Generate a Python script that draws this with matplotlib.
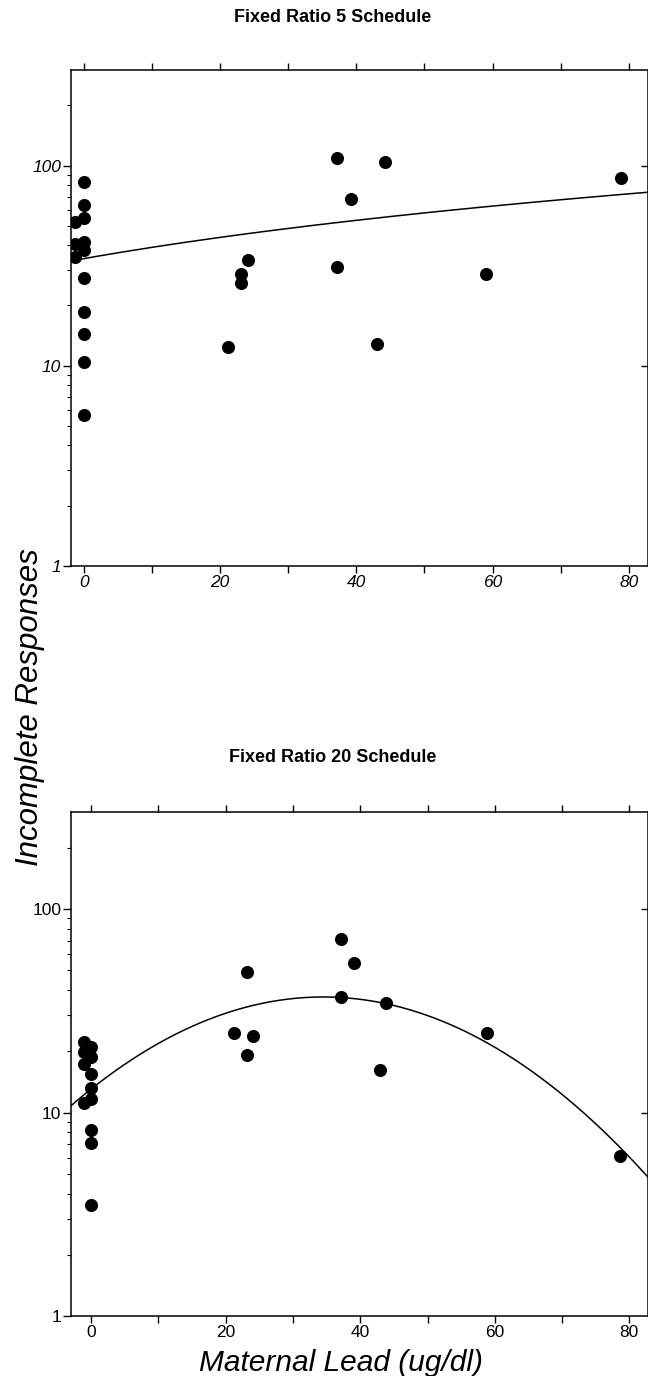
import numpy as np
import matplotlib
matplotlib.use("Agg")
import matplotlib.pyplot as plt
from matplotlib.ticker import FixedLocator, NullFormatter, FixedFormatter

plt.rcParams['font.family'] = ['Liberation Sans', 'DejaVu Sans']

# ---------------- data ----------------
titles = ["Fixed Ratio 5 Schedule", "Fixed Ratio 20 Schedule"]
x_label = "Maternal Lead (ug/dl)"
y_label = "Incomplete Responses"

lead_fr5 = [-1.3, -1.3, -1.3, 0, 0, 0, 0, 0, 0, 0, 0, 0, 0,
            21.1, 23.1, 23.1, 24.1, 37.1, 37.2, 39.2, 43.1, 44.2, 59.0, 78.8]
resp_fr5 = [52.4, 40.7, 35.0, 82.7, 63.4, 55.0, 41.5, 37.9, 27.5, 18.5, 14.4, 10.5, 5.7,
            12.4, 28.8, 25.9, 33.6, 31.3, 109, 68.1, 12.9, 104, 28.8, 86.4]

lead_fr20 = [-1.1, -1.1, -1.1, -1.1, 0, 0, 0, 0, 0, 0, 0, 0,
             21.2, 23.1, 23.1, 24.1, 37.1, 37.1, 39.0, 43.0, 43.9, 58.8, 78.6]
resp_fr20 = [22.2, 19.8, 17.4, 11.1, 20.9, 18.7, 15.4, 13.2, 11.6, 8.2, 7.1, 3.5,
             24.6, 49.1, 19.2, 23.7, 71.2, 37.1, 54.6, 16.1, 34.6, 24.6, 6.1]

# fitted curves
fit_fr5 = (34.3, 0.474)              # linear: y = a + b*x
fit_fr20 = (1.568, 34.5, 3.8e-4)     # log10 y = c - k*(x - x0)^2

x_ticks_major = [0, 20, 40, 60, 80]
x_ticks_minor = [10, 30, 50, 70]
y_ticks = [1, 10, 100]
y_ticklabels = ["1", "10", "100"]

# ---------------- layout ----------------
W, H = 648, 1376
fig = plt.figure(figsize=(W / 100, H / 100), dpi=100)


def rect(l, r, t, b):
    return [l / W, 1 - b / H, (r - l) / W, (b - t) / H]


ax1 = fig.add_axes(rect(71, 647.5, 70, 566))
ax2 = fig.add_axes(rect(71, 647.5, 812, 1316))

minor_y = [v * m for v in (1, 10, 100) for m in range(2, 10) if v * m < 300]


def style(ax, xlim, italic):
    ax.set_yscale('log')
    ax.set_ylim(1, 300)
    ax.set_xlim(*xlim)
    for s in ax.spines.values():
        s.set_linewidth(1.1)
    st = 'italic' if italic else 'normal'
    ax.xaxis.set_major_locator(FixedLocator(x_ticks_major))
    ax.xaxis.set_minor_locator(FixedLocator(x_ticks_minor))
    ax.xaxis.set_minor_formatter(NullFormatter())
    ax.yaxis.set_major_locator(FixedLocator(y_ticks))
    ax.yaxis.set_major_formatter(FixedFormatter(y_ticklabels))
    ax.yaxis.set_minor_locator(FixedLocator(minor_y))
    ax.yaxis.set_minor_formatter(NullFormatter())
    ax.tick_params(axis='x', which='both', direction='out', length=5, width=1.0,
                   top=True, bottom=True, pad=1.5, labelsize=12.5)
    ax.tick_params(axis='y', which='major', direction='out', length=6, width=1.0,
                   left=True, right=False, pad=1, labelsize=12.5)
    ax.tick_params(axis='y', which='minor', direction='out', length=3, width=0.8,
                   left=True, right=False)
    for lab in ax.get_xticklabels() + ax.get_yticklabels():
        lab.set_fontstyle(st)
    sec = ax.secondary_yaxis('right')
    sec.set_yticks([10, 100])
    sec.yaxis.set_minor_locator(FixedLocator([]))
    sec.tick_params(axis='y', which='major', direction='in', length=5, width=1.0,
                    labelright=False)
    sec.spines['right'].set_visible(False)


style(ax1, (-1.9, 82.75), True)
style(ax2, (-3.0, 82.7), False)

# points
ax1.plot(lead_fr5, resp_fr5, 'o', color='black', ms=8.4, mec='black')
ax2.plot(lead_fr20, resp_fr20, 'o', color='black', ms=8.4, mec='black')

# fitted curves
xs1 = np.linspace(-1.9, 82.75, 200)
ax1.plot(xs1, fit_fr5[0] + fit_fr5[1] * xs1, color='black', lw=1.1)
xs2 = np.linspace(-3.0, 82.7, 200)
ax2.plot(xs2, 10 ** (fit_fr20[0] - fit_fr20[2] * (xs2 - fit_fr20[1]) ** 2),
         color='black', lw=1.1)

# titles and axis labels
fig.text(333 / W, 1 - 18 / H, titles[0], ha='center', va='center',
         fontsize=13, fontweight='bold')
fig.text(333 / W, 1 - 758 / H, titles[1], ha='center', va='center',
         fontsize=13, fontweight='bold')
fig.text(30 / W, 1 - 707 / H, y_label, rotation=90, ha='center', va='center',
         fontsize=22.5, fontstyle='italic')
fig.text(341 / W, 1 - 1363 / H, x_label, ha='center', va='center',
         fontsize=21.5, fontstyle='italic')

fig.savefig('out.png', dpi=100)
